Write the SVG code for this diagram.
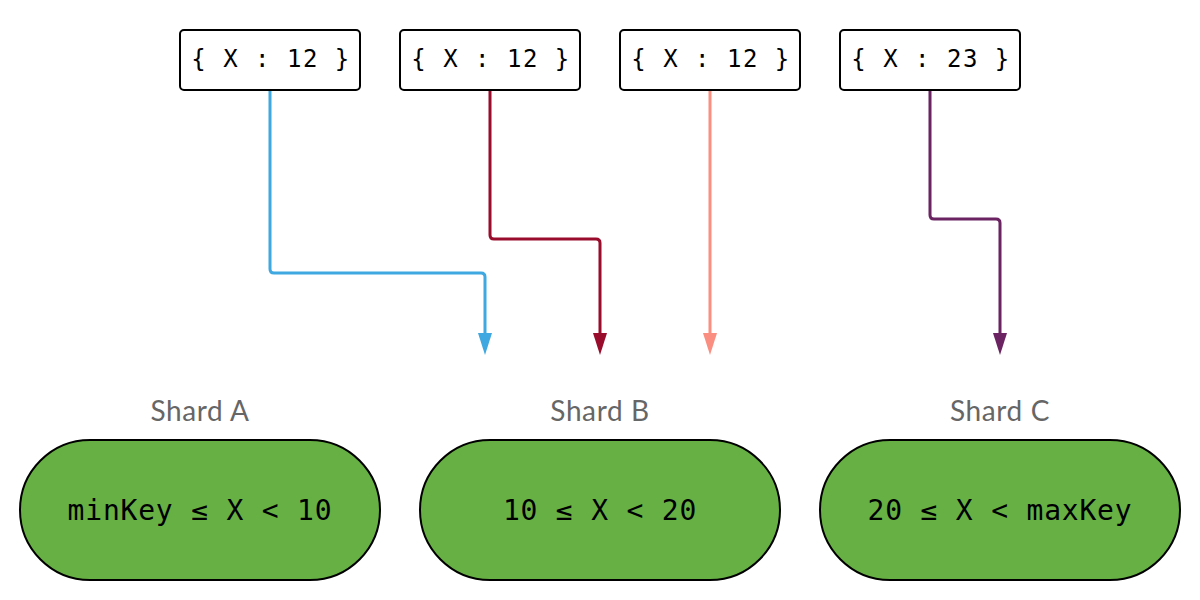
<svg xmlns="http://www.w3.org/2000/svg" width="1200" height="600" viewBox="0 0 1200 600">
<style>
.doc rect{fill:#fff;stroke:#000;stroke-width:2}
.doc text{font-family:"DejaVu Sans Mono","Liberation Mono",monospace;font-size:24px;letter-spacing:1.5px;fill:#000;text-anchor:middle}
.shard rect{fill:#67b044;stroke:#000;stroke-width:2}
.shard .r{font-family:"DejaVu Sans Mono","Liberation Mono",monospace;font-size:28px;letter-spacing:0.8px;fill:#000;text-anchor:middle}
.shard .l{font-family:Lato,"Open Sans",sans-serif;font-size:28px;letter-spacing:0.6px;fill:#666;text-anchor:middle}
.c path{fill:none;stroke-width:3;stroke-linejoin:round}
</style>
<defs>
<marker id="ab" viewBox="0 0 14 22" refX="7" refY="7" markerWidth="14" markerHeight="22" markerUnits="userSpaceOnUse"><path d="M0,0 L14,0 L7,22 Z" fill="#3fa8e0"/></marker>
<marker id="ar" viewBox="0 0 14 22" refX="7" refY="7" markerWidth="14" markerHeight="22" markerUnits="userSpaceOnUse"><path d="M0,0 L14,0 L7,22 Z" fill="#990c2c"/></marker>
<marker id="as" viewBox="0 0 14 22" refX="7" refY="7" markerWidth="14" markerHeight="22" markerUnits="userSpaceOnUse"><path d="M0,0 L14,0 L7,22 Z" fill="#fa8e80"/></marker>
<marker id="ap" viewBox="0 0 14 22" refX="7" refY="7" markerWidth="14" markerHeight="22" markerUnits="userSpaceOnUse"><path d="M0,0 L14,0 L7,22 Z" fill="#6b2362"/></marker>
</defs>
<g id="doc1" class="doc"><rect x="180" y="30" width="180" height="60" rx="4"/><text x="271" y="67">{ X : 12 }</text></g>
<g id="doc2" class="doc"><rect x="400" y="30" width="180" height="60" rx="4"/><text x="491" y="67">{ X : 12 }</text></g>
<g id="doc3" class="doc"><rect x="620" y="30" width="180" height="60" rx="4"/><text x="711" y="67">{ X : 12 }</text></g>
<g id="doc4" class="doc"><rect x="840" y="30" width="180" height="60" rx="4"/><text x="931" y="67">{ X : 23 }</text></g>
<g id="shardA" class="shard"><text class="l" x="200" y="421">Shard A</text><rect x="20" y="440" width="360" height="140" rx="70"/><text class="r" x="200" y="520">minKey ≤ X &lt; 10</text></g>
<g id="shardB" class="shard"><text class="l" x="600" y="421">Shard B</text><rect x="420" y="440" width="360" height="140" rx="70"/><text class="r" x="600" y="520">10 ≤ X &lt; 20</text></g>
<g id="shardC" class="shard"><text class="l" x="1000" y="421">Shard C</text><rect x="820" y="440" width="360" height="140" rx="70"/><text class="r" x="1000" y="520">20 ≤ X &lt; maxKey</text></g>
<g id="connectors" class="c">
<path d="M270,91 V269 Q270,273 274,273 H481 Q485,273 485,277 V340" stroke="#3fa8e0" marker-end="url(#ab)"/>
<path d="M490,91 V235 Q490,239 494,239 H596 Q600,239 600,243 V340" stroke="#990c2c" marker-end="url(#ar)"/>
<path d="M710,91 V340" stroke="#fa8e80" marker-end="url(#as)"/>
<path d="M930,91 V215 Q930,219 934,219 H996 Q1000,219 1000,223 V340" stroke="#6b2362" marker-end="url(#ap)"/>
</g>
</svg>
